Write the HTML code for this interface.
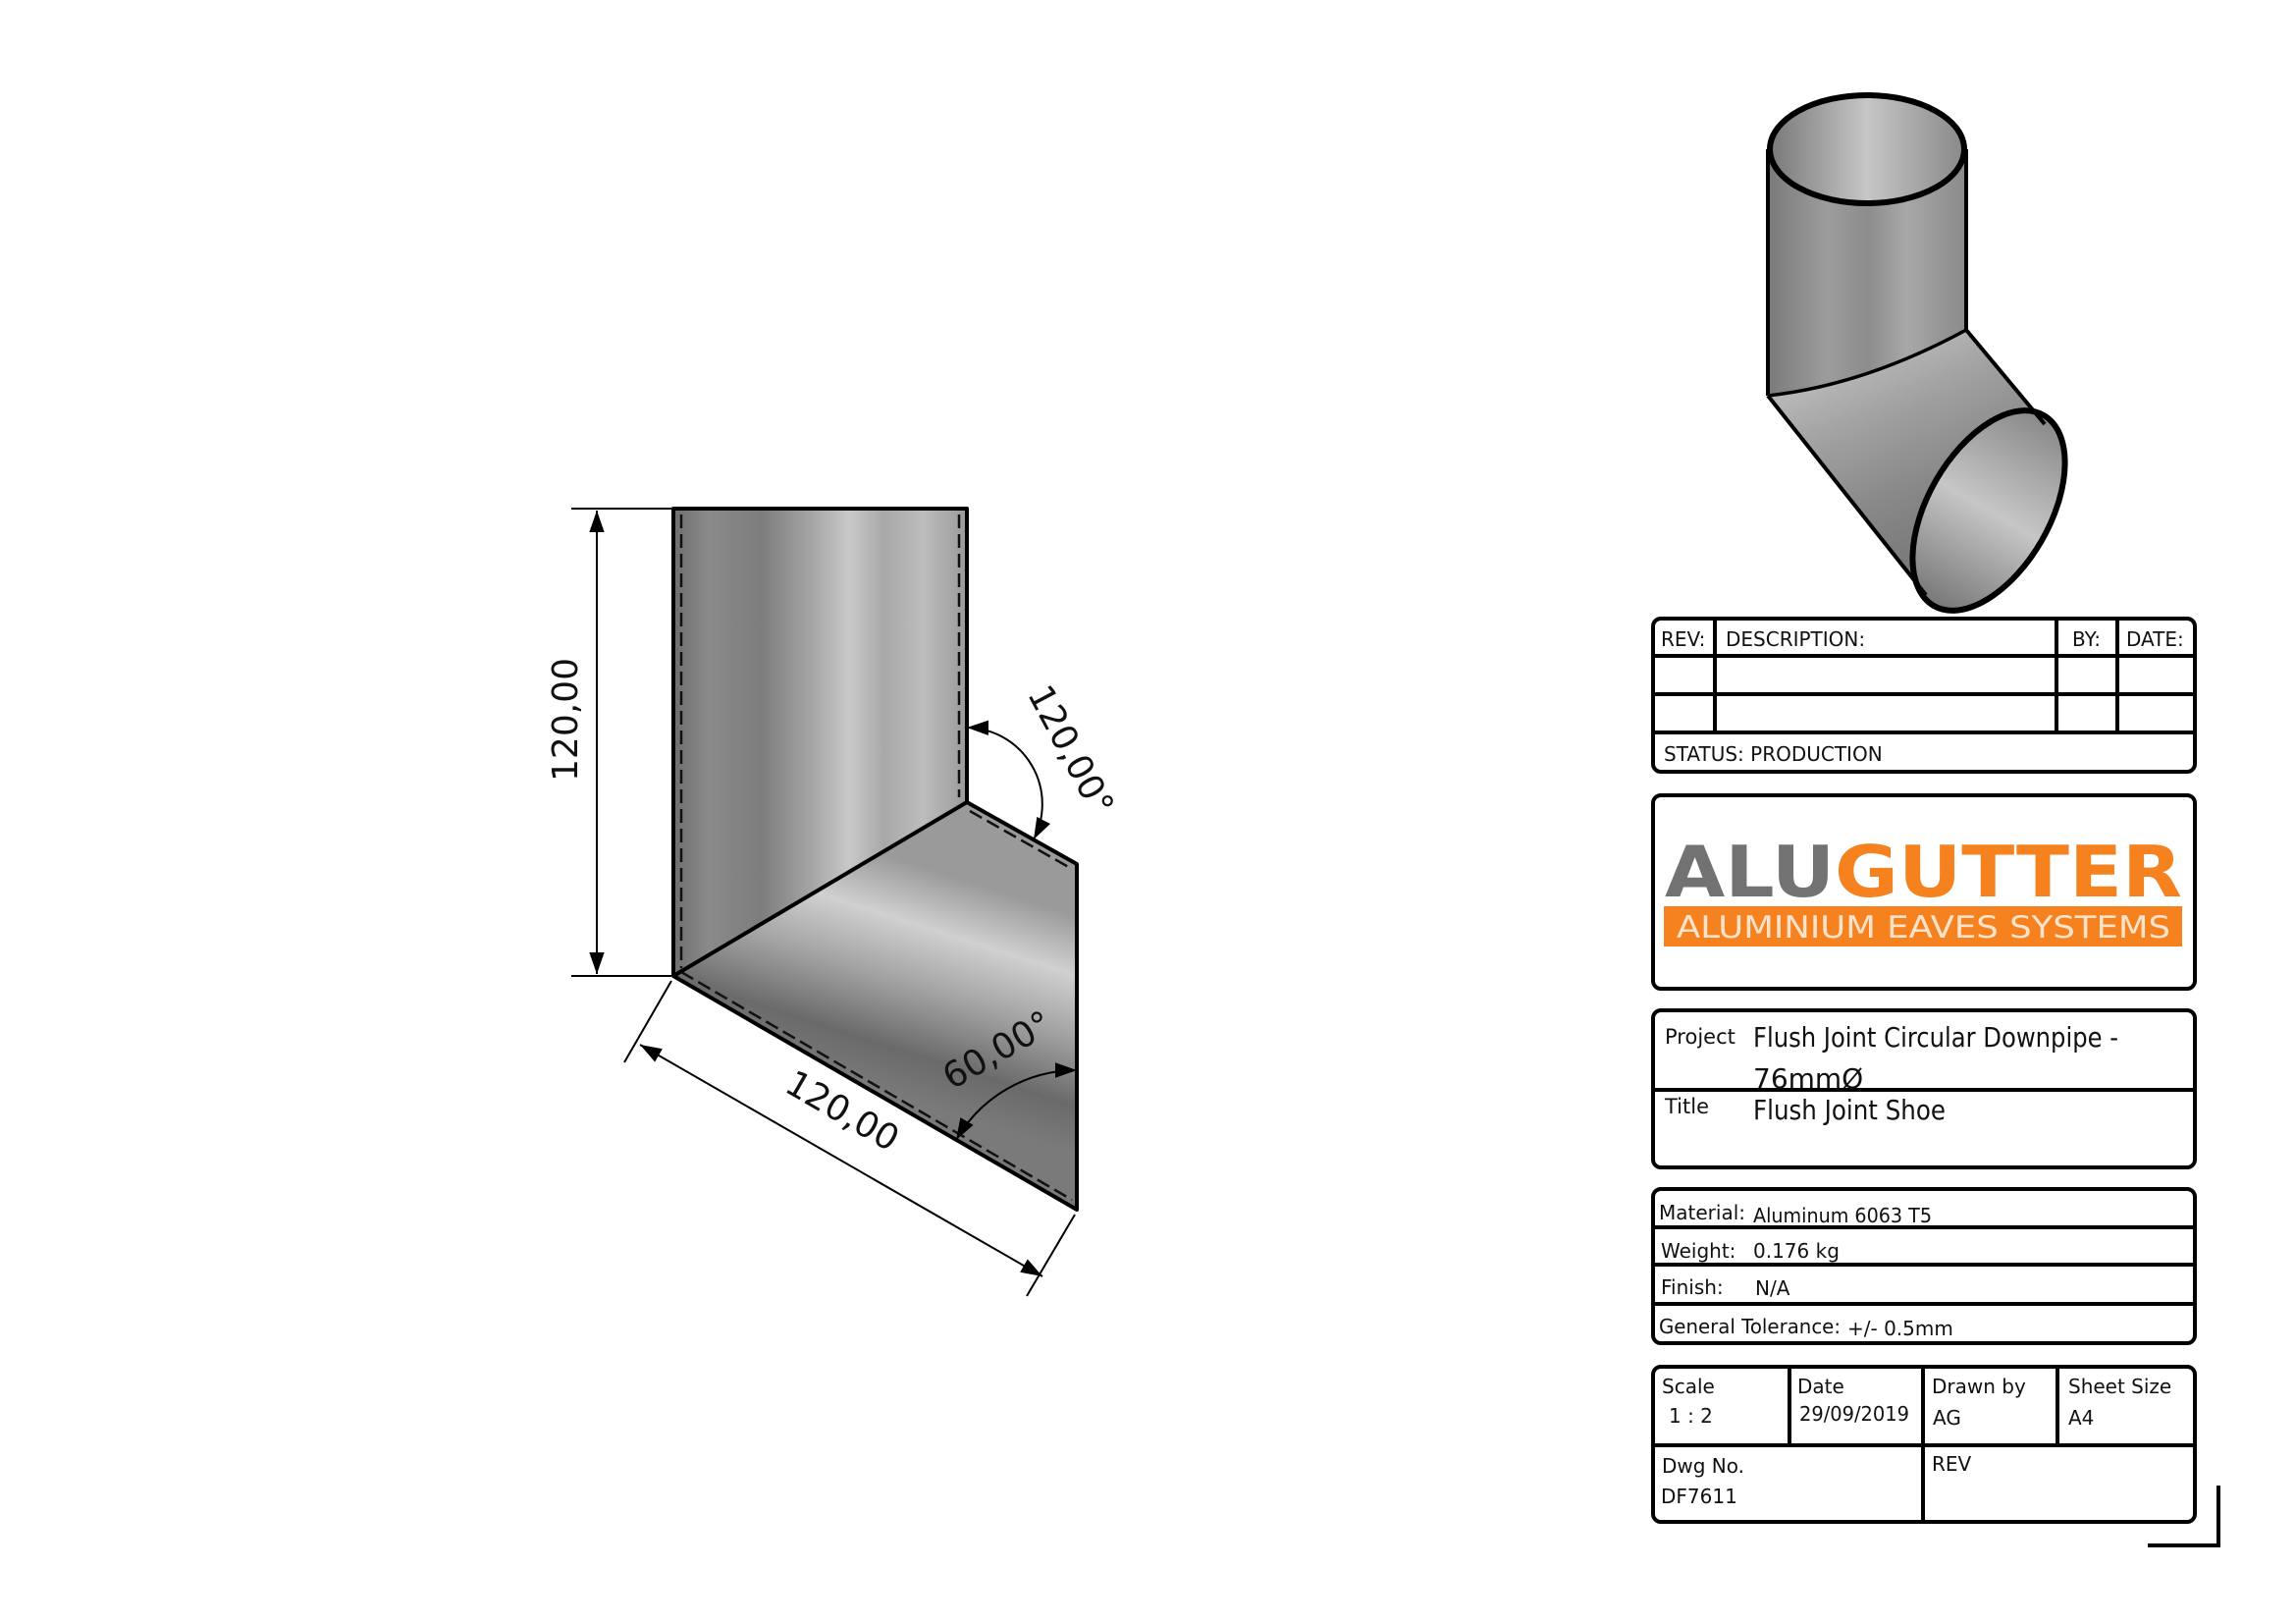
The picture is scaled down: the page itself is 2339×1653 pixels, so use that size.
<!DOCTYPE html>
<html><head><meta charset="utf-8"><style>
html,body{margin:0;padding:0;background:#fff;}
svg{display:block;}
text{font-family:"DejaVu Sans","Liberation Sans",sans-serif;fill:#111;}
</style></head><body>
<svg width="2339" height="1653" viewBox="0 0 2339 1653" xmlns="http://www.w3.org/2000/svg">
<defs>
<linearGradient id="gv" x1="686" y1="0" x2="985" y2="0" gradientUnits="userSpaceOnUse">
<stop offset="0" stop-color="#6e6e6e"/><stop offset="0.12" stop-color="#8a8a8a"/><stop offset="0.3" stop-color="#7d7d7d"/>
<stop offset="0.45" stop-color="#a0a0a0"/><stop offset="0.6" stop-color="#c8c8c8"/><stop offset="0.72" stop-color="#a8a8a8"/>
<stop offset="0.85" stop-color="#bdbdbd"/><stop offset="1" stop-color="#9a9a9a"/></linearGradient>
<linearGradient id="gb" x1="930" y1="880" x2="860" y2="1100" gradientUnits="userSpaceOnUse">
<stop offset="0" stop-color="#9a9a9a"/><stop offset="0.25" stop-color="#d0d0d0"/><stop offset="0.5" stop-color="#a5a5a5"/>
<stop offset="0.8" stop-color="#6a6a6a"/><stop offset="1" stop-color="#7a7a7a"/></linearGradient>
<linearGradient id="gp" x1="1801" y1="0" x2="2003" y2="0" gradientUnits="userSpaceOnUse">
<stop offset="0" stop-color="#7a7a7a"/><stop offset="0.3" stop-color="#9c9c9c"/><stop offset="0.5" stop-color="#8c8c8c"/>
<stop offset="0.7" stop-color="#a8a8a8"/><stop offset="1" stop-color="#8a8a8a"/></linearGradient>
<linearGradient id="gp2" x1="1850" y1="340" x2="1960" y2="580" gradientUnits="userSpaceOnUse">
<stop offset="0" stop-color="#c8c8c8"/><stop offset="0.4" stop-color="#a0a0a0"/><stop offset="0.7" stop-color="#888"/><stop offset="1" stop-color="#777"/></linearGradient>
<linearGradient id="gi" x1="0" y1="0" x2="1" y2="0">
<stop offset="0" stop-color="#777"/><stop offset="0.5" stop-color="#c6c6c6"/><stop offset="1" stop-color="#888"/></linearGradient>
<marker id="ar" viewBox="0 0 10 10" refX="10" refY="5" markerWidth="22" markerHeight="22" markerUnits="userSpaceOnUse" orient="auto-start-reverse">
<path d="M0,1.5 L10,5 L0,8.5 Z" fill="#000"/></marker>
</defs>

<!-- main shape -->
<polygon points="686,518 985,518 985,817 686,994" fill="url(#gv)"/>
<polygon points="686,994 985,817 1097,880 1097,1232" fill="url(#gb)"/>
<g stroke="#111" stroke-width="2.5" stroke-dasharray="14,6" fill="none">
<line x1="694" y1="524" x2="694" y2="986"/>
<line x1="977" y1="524" x2="977" y2="812"/>
<line x1="988" y1="826" x2="1092" y2="885"/>
<line x1="694" y1="990" x2="1092" y2="1222"/>
</g>
<g stroke="#000" stroke-width="4" fill="none" stroke-linejoin="round">
<polygon points="686,518 985,518 985,817 1097,880 1097,1232 686,994"/>
<line x1="686" y1="994" x2="985" y2="817"/>
</g>

<!-- dimensions -->
<g stroke="#000" stroke-width="2" fill="none">
<line x1="582" y1="518" x2="684" y2="518"/>
<line x1="582" y1="994" x2="684" y2="994"/>
<line x1="608" y1="520" x2="608" y2="992" marker-start="url(#ar)" marker-end="url(#ar)"/>
<line x1="684" y1="999" x2="636" y2="1082"/>
<line x1="1095" y1="1237" x2="1046" y2="1320"/>
<line x1="652" y1="1064" x2="1062" y2="1300" marker-start="url(#ar)" marker-end="url(#ar)"/>
<path d="M985,741 A78,78 0 0 1 1053,855" marker-start="url(#ar)" marker-end="url(#ar)"/>
<path d="M1097,1090 A142,142 0 0 0 974,1161" marker-start="url(#ar)" marker-end="url(#ar)"/>
</g>
<text x="0" y="0" font-size="36" text-anchor="middle" transform="translate(588,733) rotate(-90)">120,00</text>
<text x="0" y="0" font-size="36" text-anchor="middle" transform="translate(852,1142) rotate(30)">120,00</text>
<text x="0" y="0" font-size="36" text-anchor="middle" transform="translate(1080,770) rotate(62)">120,00°</text>
<text x="0" y="0" font-size="36" text-anchor="middle" transform="translate(1022,1080) rotate(-30)">60,00°</text>

<!-- iso pipe -->
<path d="M1801,152 L1801,403 Q1900,392 2003,336 L2003,152 Z" fill="url(#gp)"/>
<path d="M1801,403 Q1900,392 2003,336 L2083,432 L1962,606 Z" fill="url(#gp2)"/>
<ellipse cx="2026" cy="520" rx="112" ry="62" transform="rotate(-60 2026 520)" fill="url(#gi)"/>
<ellipse cx="1902" cy="152" rx="100" ry="55" fill="url(#gi)"/>
<g stroke="#000" fill="none">
<path d="M1801,152 L1801,403 M2003,152 L2003,336" stroke-width="4"/>
<path d="M1801,403 Q1900,392 2003,336" stroke-width="3.5"/>
<path d="M1801,403 L1962,606 M2003,336 L2083,432" stroke-width="4"/>
<ellipse cx="1902" cy="152" rx="99" ry="55" stroke-width="6"/>
<ellipse cx="2026" cy="520" rx="112" ry="62" transform="rotate(-60 2026 520)" stroke-width="6"/>
</g>

<!-- title blocks -->
<g stroke="#000" stroke-width="4" fill="none">
<rect x="1684" y="630" width="552" height="156" rx="8"/>
<line x1="1684" y1="668" x2="2236" y2="668"/>
<line x1="1684" y1="707" x2="2236" y2="707"/>
<line x1="1684" y1="746" x2="2236" y2="746"/>
<line x1="1747" y1="630" x2="1747" y2="746"/>
<line x1="2095" y1="630" x2="2095" y2="746"/>
<line x1="2157" y1="630" x2="2157" y2="746"/>
<rect x="1684" y="810" width="552" height="197" rx="8"/>
<rect x="1684" y="1029" width="552" height="160" rx="8"/>
<line x1="1684" y1="1110" x2="2236" y2="1110"/>
<rect x="1684" y="1211" width="552" height="157" rx="8"/>
<line x1="1684" y1="1250" x2="2236" y2="1250"/>
<line x1="1684" y1="1288" x2="2236" y2="1288"/>
<line x1="1684" y1="1328" x2="2236" y2="1328"/>
<rect x="1684" y="1392" width="552" height="158" rx="8"/>
<line x1="1684" y1="1472" x2="2236" y2="1472"/>
<line x1="1823" y1="1392" x2="1823" y2="1472"/>
<line x1="1959" y1="1392" x2="1959" y2="1550"/>
<line x1="2096" y1="1392" x2="2096" y2="1472"/>
<path d="M2188,1574 L2260,1574 L2260,1513"/>
</g>
<g font-size="20">
<text x="1692" y="658">REV:</text>
<text x="1758" y="658">DESCRIPTION:</text>
<text x="2111" y="658">BY:</text>
<text x="2166" y="658">DATE:</text>
<text x="1695" y="775">STATUS: PRODUCTION</text>
</g>
<text x="1696" y="913" font-size="72" font-weight="bold" textLength="527" lengthAdjust="spacingAndGlyphs" font-family="Liberation Sans, sans-serif" style="fill:#727272">ALU<tspan style="fill:#F5821F">GUTTER</tspan></text>
<rect x="1695" y="923" width="528" height="41" fill="#F5821F"/>
<text x="1708" y="955" font-size="31" textLength="503" lengthAdjust="spacingAndGlyphs" font-family="Liberation Sans, sans-serif" style="fill:#fde3cc">ALUMINIUM EAVES SYSTEMS</text>

<text x="1696" y="1063" font-size="21">Project</text>
<text x="1786" y="1066" font-size="28" textLength="372" lengthAdjust="spacingAndGlyphs">Flush Joint Circular Downpipe -</text>
<text x="1786" y="1108" font-size="28">76mmØ</text>
<text x="1696" y="1134" font-size="21">Title</text>
<text x="1786" y="1140" font-size="28" textLength="196" lengthAdjust="spacingAndGlyphs">Flush Joint Shoe</text>

<g font-size="20">
<text x="1690" y="1242">Material:</text>
<text x="1786" y="1245" textLength="182" lengthAdjust="spacingAndGlyphs">Aluminum 6063 T5</text>
<text x="1692" y="1281">Weight:</text>
<text x="1786" y="1281">0.176 kg</text>
<text x="1692" y="1318">Finish:</text>
<text x="1788" y="1319">N/A</text>
<text x="1690" y="1358" textLength="185" lengthAdjust="spacingAndGlyphs">General Tolerance:</text>
<text x="1882" y="1360">+/- 0.5mm</text>
<text x="1693" y="1419">Scale</text>
<text x="1700" y="1449">1 : 2</text>
<text x="1831" y="1419">Date</text>
<text x="1833" y="1447" textLength="112" lengthAdjust="spacingAndGlyphs">29/09/2019</text>
<text x="1968" y="1419">Drawn by</text>
<text x="1969" y="1451">AG</text>
<text x="2107" y="1419">Sheet Size</text>
<text x="2107" y="1451">A4</text>
<text x="1693" y="1500">Dwg No.</text>
<text x="1692" y="1531">DF7611</text>
<text x="1968" y="1498">REV</text>
</g>
</svg>
</body></html>
